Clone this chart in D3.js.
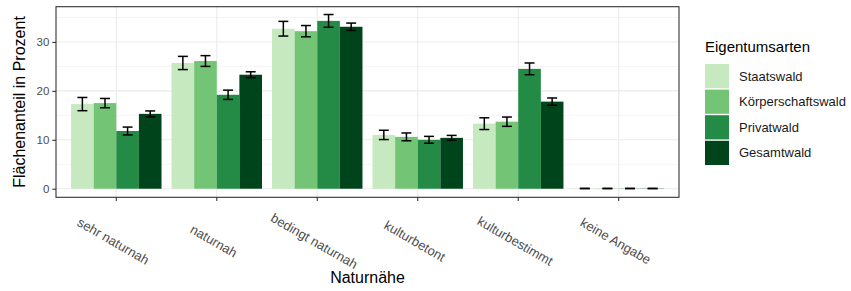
<!DOCTYPE html>
<html>
<head>
<meta charset="utf-8">
<script src="https://cdn.jsdelivr.net/npm/d3@7"></script>
<style>
  body { margin: 0; background: #fff; }
  text { font-family: "Liberation Sans", Arial, sans-serif; }
</style>
</head>
<body>
<div id="chart"></div>
<script>
// Naturnähe der Waldflächen nach Eigentumsarten

var categories = ["sehr naturnah", "naturnah", "bedingt naturnah", "kulturbetont", "kulturbestimmt", "keine Angabe"];
var owners = ["Staatswald", "Körperschaftswald", "Privatwald", "Gesamtwald"];
var colors = ["#c7e9c0", "#74c476", "#238b45", "#00441b"];

// Flächenanteil in Prozent, one array per owner (same order as categories)
var staatswald        = [17.3, 25.7, 32.7, 11.0, 13.3, 0.05];
var koerperschaftswald = [17.5, 26.1, 32.2, 10.6, 13.7, 0.05];
var privatwald        = [11.8, 19.2, 34.3, 10.0, 24.5, 0.05];
var gesamtwald        = [15.3, 23.3, 33.1, 10.4, 17.8, 0.05];

// half width of the error bars
var errStaats  = [1.35, 1.35, 1.5, 0.95, 1.2, 0.03];
var errKoerper = [0.95, 1.1, 1.15, 0.8, 0.95, 0.03];
var errPrivat  = [0.8, 0.95, 1.3, 0.7, 1.2, 0.03];
var errGesamt  = [0.6, 0.6, 0.75, 0.5, 0.75, 0.03];

var yTicks = [0, 10, 20, 30];
var yMinor = [5, 15, 25, 35];

var values = [staatswald, koerperschaftswald, privatwald, gesamtwald];
var errors = [errStaats, errKoerper, errPrivat, errGesamt];

var data = [];
categories.forEach(function (c, i) {
  owners.forEach(function (o, j) {
    data.push({cat: c, owner: o, value: values[j][i], err: errors[j][i]});
  });
});

var W = 851, H = 291;
var panel = {left: 56, right: 679, top: 6.7, bottom: 197.3};

var svg = d3.select("#chart").append("svg")
  .attr("width", W).attr("height", H);
svg.append("rect").attr("width", W).attr("height", H).attr("fill", "#fff");

var x = d3.scaleBand()
  .domain(categories)
  .range([panel.left, panel.right])
  .paddingInner(0)
  .paddingOuter(0.1);

var bw = x.bandwidth();
var x1 = d3.scaleBand()
  .domain(owners)
  .range([bw * 0.05, bw * 0.95]);

var y = d3.scaleLinear()
  .domain([-1.75, 37.2])
  .range([panel.bottom, panel.top]);

var color = d3.scaleOrdinal().domain(owners).range(colors);

// grid
var grid = svg.append("g");
grid.selectAll("line.minor").data(yMinor).enter().append("line")
  .attr("x1", panel.left).attr("x2", panel.right)
  .attr("y1", function (d) { return y(d); }).attr("y2", function (d) { return y(d); })
  .attr("stroke", "#ebebeb").attr("stroke-width", 0.55);
grid.selectAll("line.major").data(yTicks).enter().append("line")
  .attr("x1", panel.left).attr("x2", panel.right)
  .attr("y1", function (d) { return y(d); }).attr("y2", function (d) { return y(d); })
  .attr("stroke", "#ebebeb").attr("stroke-width", 1.1);
grid.selectAll("line.vx").data(categories).enter().append("line")
  .attr("x1", function (d) { return x(d) + bw / 2; }).attr("x2", function (d) { return x(d) + bw / 2; })
  .attr("y1", panel.top).attr("y2", panel.bottom)
  .attr("stroke", "#ebebeb").attr("stroke-width", 1.1);

// bars
svg.append("g").selectAll("rect")
  .data(data)
  .enter()
  .append("rect")
  .attr("x", function (d) { return x(d.cat) + x1(d.owner); })
  .attr("width", x1.bandwidth())
  .attr("y", function (d) { return y(d.value); })
  .attr("height", function (d) { return y(0) - y(d.value); })
  .attr("fill", function (d) { return color(d.owner); });

// error bars
var capW = x1.bandwidth() * 0.44;
var eb = svg.append("g").attr("stroke", "#000").attr("stroke-width", 1.5).attr("fill", "none");
data.forEach(function (d) {
  var cx = x(d.cat) + x1(d.owner) + x1.bandwidth() / 2;
  var y0 = y(d.value - d.err), y1 = y(d.value + d.err);
  eb.append("line").attr("x1", cx).attr("x2", cx).attr("y1", y0).attr("y2", y1);
  eb.append("line").attr("x1", cx - capW / 2).attr("x2", cx + capW / 2).attr("y1", y0).attr("y2", y0);
  eb.append("line").attr("x1", cx - capW / 2).attr("x2", cx + capW / 2).attr("y1", y1).attr("y2", y1);
});

// panel border
svg.append("rect")
  .attr("x", panel.left).attr("y", panel.top)
  .attr("width", panel.right - panel.left).attr("height", panel.bottom - panel.top)
  .attr("fill", "none").attr("stroke", "#333333").attr("stroke-width", 1.1);

// y axis
var yAxis = svg.append("g")
  .attr("transform", "translate(" + panel.left + ",0)")
  .call(d3.axisLeft(y).tickValues(yTicks).tickSize(3.7).tickPadding(3));
yAxis.select(".domain").remove();
yAxis.selectAll(".tick line").attr("stroke", "#333333").attr("stroke-width", 1.1);
yAxis.selectAll(".tick text")
  .attr("fill", "#4d4d4d").style("font-size", "11.5px")
  .style("font-family", "'Liberation Sans', Arial, sans-serif");

// x axis
var xAxis = svg.append("g")
  .attr("transform", "translate(0," + panel.bottom + ")")
  .call(d3.axisBottom(x).tickSize(3.7).tickFormat(""));
xAxis.select(".domain").remove();
xAxis.selectAll(".tick line").attr("stroke", "#333333").attr("stroke-width", 1.1);

svg.append("g").selectAll("text")
  .data(categories)
  .enter()
  .append("text")
  .attr("transform", function (d) {
    return "translate(" + (x(d) + bw / 2 - 3) + ",241) rotate(30)";
  })
  .attr("text-anchor", "middle")
  .attr("dy", "0.35em")
  .attr("fill", "#4d4d4d")
  .style("font-size", "13px")
  .text(function (d) { return d; });

// axis titles
svg.append("text")
  .attr("x", (panel.left + panel.right) / 2).attr("y", 283)
  .attr("text-anchor", "middle")
  .style("font-size", "16px")
  .text("Naturnähe");

svg.append("text")
  .attr("transform", "translate(25," + (panel.top + panel.bottom) / 2 + ") rotate(-90)")
  .attr("text-anchor", "middle")
  .style("font-size", "16px")
  .text("Flächenanteil in Prozent");

// legend
var legend = svg.append("g").attr("transform", "translate(705,0)");
legend.append("text")
  .attr("x", 0).attr("y", 52)
  .style("font-size", "15px")
  .text("Eigentumsarten");
var items = legend.selectAll("g.item")
  .data(owners)
  .enter()
  .append("g")
  .attr("transform", function (d, i) { return "translate(0," + (64 + i * 25.6) + ")"; });
items.append("rect")
  .attr("width", 24).attr("height", 24.2)
  .attr("fill", function (d) { return color(d); });
items.append("text")
  .attr("x", 34).attr("y", 12.1)
  .attr("dy", "0.35em")
  .style("font-size", "13px")
  .attr("fill", "#1a1a1a")
  .text(function (d) { return d; });
</script>
</body>
</html>
